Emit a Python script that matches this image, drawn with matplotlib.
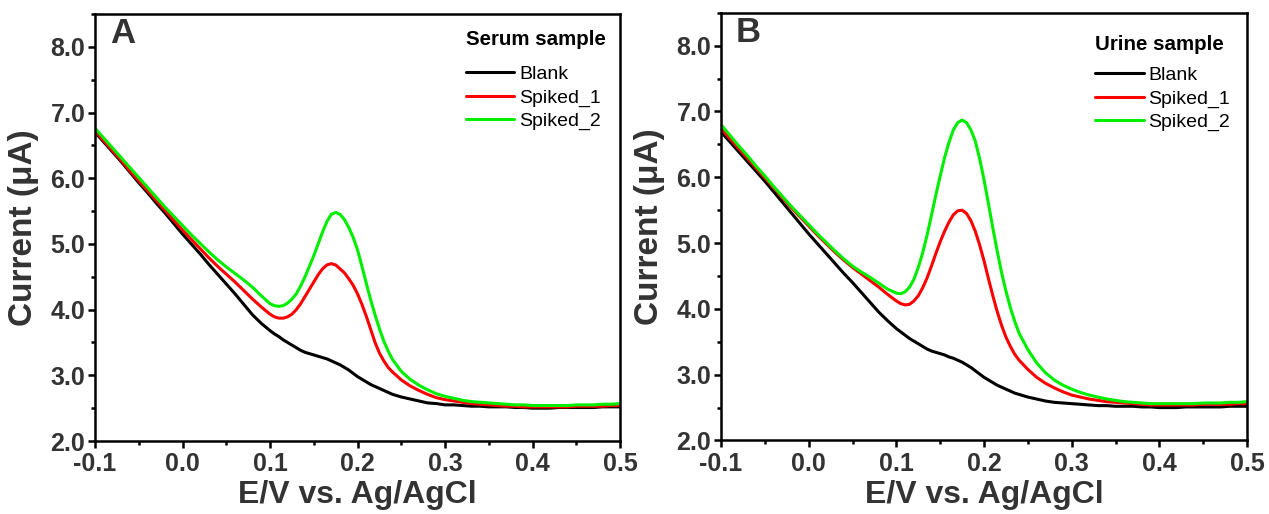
import numpy as np
import matplotlib
matplotlib.use("Agg")
import matplotlib.pyplot as plt
from matplotlib.ticker import MultipleLocator, FormatStrFormatter

plt.rcParams['font.family'] = ['Liberation Sans', 'DejaVu Sans']
plt.rcParams['axes.unicode_minus'] = False

# Potential grid (V vs Ag/AgCl): 10 mV steps, 5 mV steps around the peak
potential = np.round(np.concatenate([np.arange(-0.10, 0.0951, 0.01),
                                     np.arange(0.10, 0.2401, 0.005),
                                     np.arange(0.25, 0.5001, 0.01)]), 3)

# Panel A: serum sample (current, uA)
serum_blank = [6.70, 6.55, 6.40, 6.25, 6.09, 5.93, 5.78, 5.62, 5.47, 5.31,
               5.15, 5.00, 4.85, 4.69, 4.54, 4.39, 4.24, 4.08, 3.92, 3.79,
               3.68, 3.63, 3.59, 3.54, 3.50, 3.46, 3.42, 3.38, 3.35, 3.33,
               3.31, 3.29, 3.27, 3.25, 3.22, 3.19, 3.16, 3.12, 3.08, 3.03,
               2.98, 2.94, 2.90, 2.86, 2.83, 2.80, 2.77, 2.74, 2.71,
               2.67, 2.64, 2.61, 2.58, 2.57, 2.55, 2.55, 2.54, 2.53, 2.53,
               2.52, 2.52, 2.52, 2.51, 2.51, 2.50, 2.50, 2.50, 2.51, 2.51,
               2.51, 2.51, 2.51, 2.52, 2.52, 2.52]
serum_spiked1 = [6.72, 6.57, 6.42, 6.27, 6.11, 5.96, 5.81, 5.66, 5.51, 5.36,
                 5.21, 5.07, 4.93, 4.79, 4.66, 4.54, 4.42, 4.29, 4.16, 4.04,
                 3.93, 3.89, 3.87, 3.87, 3.89, 3.93, 4.00, 4.09, 4.20, 4.31,
                 4.42, 4.53, 4.62, 4.68, 4.70, 4.68, 4.62, 4.56, 4.47, 4.37,
                 4.24, 4.08, 3.90, 3.70, 3.50, 3.34, 3.22, 3.12, 3.05,
                 2.93, 2.84, 2.77, 2.71, 2.66, 2.63, 2.61, 2.59, 2.57, 2.56,
                 2.55, 2.54, 2.53, 2.53, 2.52, 2.52, 2.52, 2.52, 2.52, 2.52,
                 2.53, 2.53, 2.53, 2.53, 2.54, 2.54]
serum_spiked2 = [6.76, 6.61, 6.46, 6.31, 6.16, 6.01, 5.86, 5.71, 5.56, 5.42,
                 5.28, 5.14, 5.01, 4.88, 4.76, 4.65, 4.55, 4.45, 4.34, 4.21,
                 4.09, 4.06, 4.05, 4.06, 4.10, 4.16, 4.24, 4.36, 4.50, 4.66,
                 4.82, 5.00, 5.18, 5.34, 5.45, 5.48, 5.45, 5.37, 5.25, 5.10,
                 4.91, 4.66, 4.40, 4.15, 3.92, 3.71, 3.52, 3.37, 3.24,
                 3.06, 2.94, 2.85, 2.78, 2.72, 2.68, 2.65, 2.62, 2.60, 2.59,
                 2.58, 2.57, 2.56, 2.55, 2.55, 2.54, 2.54, 2.54, 2.54, 2.54,
                 2.55, 2.55, 2.55, 2.56, 2.56, 2.57]

# Panel B: urine sample (current, uA)
urine_blank = [6.69, 6.54, 6.39, 6.24, 6.09, 5.94, 5.78, 5.62, 5.46, 5.30,
               5.14, 4.99, 4.84, 4.69, 4.54, 4.40, 4.25, 4.10, 3.95, 3.82,
               3.70, 3.65, 3.60, 3.55, 3.51, 3.47, 3.43, 3.39, 3.36, 3.34,
               3.32, 3.30, 3.27, 3.25, 3.22, 3.19, 3.15, 3.11, 3.06, 3.01,
               2.96, 2.92, 2.88, 2.84, 2.81, 2.78, 2.75, 2.72, 2.70,
               2.66, 2.63, 2.60, 2.58, 2.57, 2.56, 2.55, 2.54, 2.53, 2.53,
               2.52, 2.52, 2.52, 2.51, 2.51, 2.50, 2.50, 2.50, 2.51, 2.51,
               2.51, 2.51, 2.51, 2.52, 2.52, 2.52]
urine_spiked1 = [6.74, 6.59, 6.44, 6.29, 6.14, 5.99, 5.84, 5.69, 5.54, 5.40,
                 5.26, 5.12, 4.99, 4.86, 4.74, 4.63, 4.53, 4.43, 4.33, 4.22,
                 4.12, 4.08, 4.06, 4.07, 4.12, 4.20, 4.32, 4.47, 4.65, 4.84,
                 5.02, 5.18, 5.32, 5.43, 5.49, 5.50, 5.45, 5.34, 5.18, 4.97,
                 4.73, 4.46, 4.20, 3.96, 3.75, 3.57, 3.43, 3.31, 3.22,
                 3.08, 2.96, 2.87, 2.80, 2.74, 2.69, 2.66, 2.63, 2.61, 2.59,
                 2.58, 2.57, 2.56, 2.55, 2.54, 2.54, 2.54, 2.54, 2.54, 2.54,
                 2.55, 2.55, 2.55, 2.55, 2.56, 2.56]
urine_spiked2 = [6.80, 6.64, 6.48, 6.33, 6.17, 6.02, 5.86, 5.71, 5.56, 5.42,
                 5.28, 5.14, 5.01, 4.88, 4.76, 4.65, 4.56, 4.48, 4.39, 4.30,
                 4.24, 4.23, 4.26, 4.33, 4.45, 4.63, 4.85, 5.12, 5.42, 5.73,
                 6.02, 6.30, 6.53, 6.72, 6.83, 6.87, 6.83, 6.72, 6.55, 6.28,
                 5.96, 5.60, 5.23, 4.88, 4.55, 4.27, 4.02, 3.81, 3.63,
                 3.38, 3.18, 3.03, 2.92, 2.84, 2.78, 2.73, 2.69, 2.66, 2.63,
                 2.61, 2.59, 2.58, 2.57, 2.56, 2.56, 2.56, 2.56, 2.56, 2.56,
                 2.57, 2.57, 2.57, 2.58, 2.58, 2.59]

series_labels = ["Blank", "Spiked_1", "Spiked_2"]
series_colors = ["#000000", "#ff0000", "#00ee00"]
panel_letters = ["A", "B"]
panel_titles = ["Serum sample", "Urine sample"]
xlabel = "E/V vs. Ag/AgCl"
ylabel = "Current (\u03bcA)"

fig = plt.figure(figsize=(12.69, 5.14), dpi=100)
axA = fig.add_axes([0.0749, 0.142, 0.4137, 0.8308])
axB = fig.add_axes([0.5682, 0.143, 0.4145, 0.8322])

txt_col = "#333333"
panels = [(axA, [serum_blank, serum_spiked1, serum_spiked2]),
          (axB, [urine_blank, urine_spiked1, urine_spiked2])]
legend_anchor = [(0.995, 0.99), (0.99, 0.975)]
legend_sep = [12, 9]

for i, (ax, data) in enumerate(panels):
    for vals, lab, col in zip(data, series_labels, series_colors):
        ax.plot(potential, vals, color=col, lw=2.2, label=lab,
                solid_joinstyle='round', solid_capstyle='round')
    ax.set_xlim(-0.1, 0.5)
    ax.set_ylim(2.0, 8.5)
    ax.xaxis.set_major_locator(MultipleLocator(0.1))
    ax.xaxis.set_minor_locator(MultipleLocator(0.05))
    ax.yaxis.set_major_locator(MultipleLocator(1.0))
    ax.yaxis.set_minor_locator(MultipleLocator(0.5))
    ax.xaxis.set_major_formatter(FormatStrFormatter('%.1f'))
    ax.yaxis.set_major_formatter(FormatStrFormatter('%.1f'))
    for s in ax.spines.values():
        s.set_linewidth(1.8)
    ax.tick_params(which='major', direction='out', length=5, width=1.8,
                   labelsize=18, pad=3, labelcolor=txt_col)
    ax.tick_params(which='minor', direction='out', length=3, width=1.8)
    ax.tick_params(axis='y', pad=2)
    for lbl in ax.get_xticklabels() + ax.get_yticklabels():
        lbl.set_fontweight('bold')
    ax.set_xlabel(xlabel, fontsize=23, fontweight='bold', color=txt_col, labelpad=3)
    ax.set_ylabel(ylabel, fontsize=24, fontweight='bold', color=txt_col, labelpad=8)
    ax.text(0.028, 0.992, panel_letters[i], transform=ax.transAxes, fontsize=25,
            fontweight='bold', color=txt_col, ha='left', va='top')
    leg = ax.legend(loc='upper right', bbox_to_anchor=legend_anchor[i], frameon=False,
                    fontsize=14, handlelength=2.5, handletextpad=0.25,
                    labelspacing=0.3, title=panel_titles[i],
                    title_fontproperties={'weight': 'bold', 'size': 14.8},
                    alignment='left', borderaxespad=0.2)
    leg._legend_box.sep = legend_sep[i]

fig.savefig("out.png", dpi=100)
